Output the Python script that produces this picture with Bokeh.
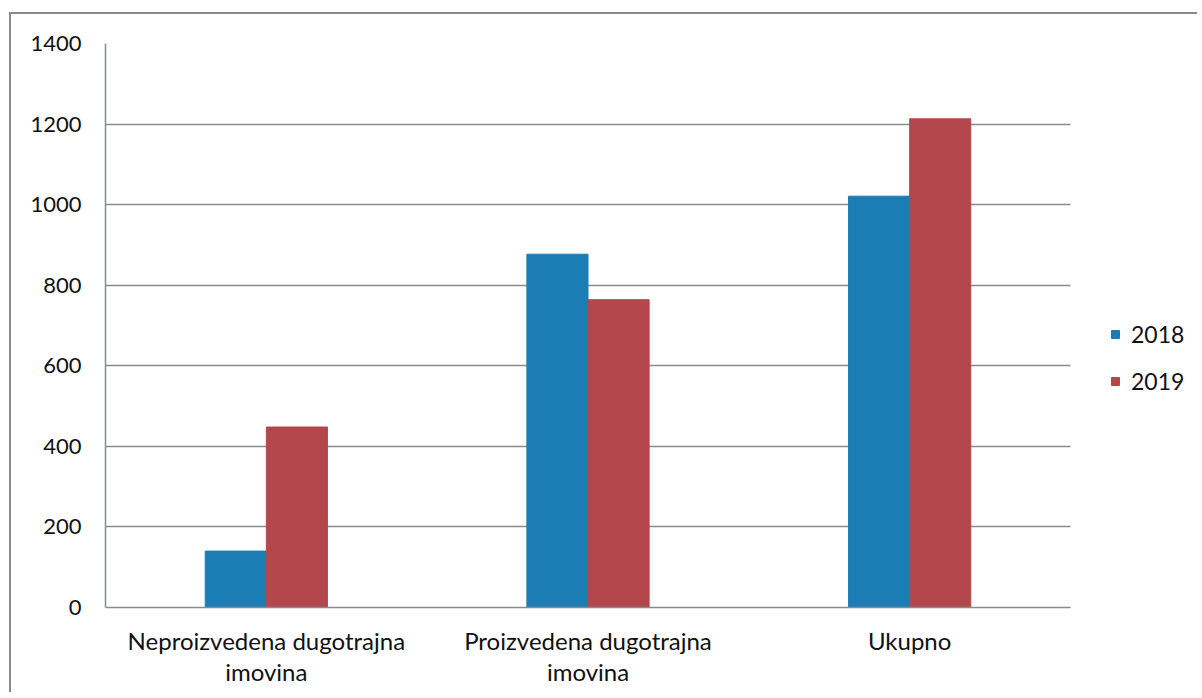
from bokeh.plotting import figure
from bokeh.models import ColumnDataSource, Range1d, Legend, LegendItem, FixedTicker
from bokeh.embed import file_html
from bokeh.resources import INLINE

categories = ["Neproizvedena dugotrajna\nimovina", "Proizvedena dugotrajna\nimovina", "Ukupno"]
values_2018 = [140, 877, 1021]
values_2019 = [448, 764, 1213]
years = ["2018", "2019"]
y_ticks = [0, 200, 400, 600, 800, 1000, 1200, 1400]

BLUE = "#1b7db4"
RED = "#b3474b"
GRID = "#878c8e"
FONT = "Lato"

n = len(categories)
centers = [i + 0.5 for i in range(n)]
BAR_W = 0.19
src = ColumnDataSource(dict(
    x18=[c - BAR_W / 2 for c in centers],
    x19=[c + BAR_W / 2 for c in centers],
    y2018=values_2018, y2019=values_2019))

# frame: 3 category slots span 965 px; the extra room on the right holds the legend
X_END = n * 1094 / 965

p = figure(width=1188, height=680, output_backend="svg", toolbar_location=None,
           x_range=Range1d(0, X_END), y_range=Range1d(0, 1400))
p.min_border_left = 94
p.min_border_top = 29
p.min_border_bottom = 87
p.min_border_right = 0
p.outline_line_color = None
p.background_fill_color = "white"
p.border_fill_color = "white"
p.styles = {"border-left": "2px solid #8a8a8a", "border-top": "2px solid #8a8a8a",
            "margin-left": "9px", "margin-top": "12px"}

r1 = p.vbar(x="x18", top="y2018", width=BAR_W, source=src, fill_color=BLUE, line_color=BLUE)
r2 = p.vbar(x="x19", top="y2019", width=BAR_W, source=src, fill_color=RED, line_color=RED)

p.xgrid.grid_line_color = None
p.ygrid.grid_line_color = GRID
p.ygrid.grid_line_width = 1.5
try:
    p.ygrid.cross_bounds = (0, n)
except Exception:
    pass
p.yaxis.ticker = FixedTicker(ticks=y_ticks)

p.yaxis.axis_line_color = GRID
p.yaxis.axis_line_width = 1.5
p.yaxis.major_tick_line_color = None
p.yaxis.minor_tick_line_color = None
p.yaxis.major_label_text_font = FONT
p.yaxis.major_label_text_font_size = "22px"
p.yaxis.major_label_text_color = "#111111"
p.yaxis.major_label_standoff = 18

p.xaxis.ticker = FixedTicker(ticks=centers)
p.xaxis.major_label_overrides = {c: lab for c, lab in zip(centers, categories)}
p.xaxis.bounds = (0, n)
p.xaxis.axis_line_color = GRID
p.xaxis.axis_line_width = 1.5
p.xaxis.major_tick_line_color = None
p.xaxis.minor_tick_line_color = None
p.xaxis.major_label_text_font = FONT
p.xaxis.major_label_text_font_size = "24px"
p.xaxis.major_label_text_color = "#111111"
p.xaxis.major_label_text_line_height = 1.1
p.xaxis.major_label_standoff = 12
p.xaxis.major_label_orientation = "horizontal"

legend = Legend(items=[LegendItem(label=years[0], renderers=[r1]),
                       LegendItem(label=years[1], renderers=[r2])],
                location=(1005, 212), orientation="vertical")
legend.border_line_color = None
legend.background_fill_alpha = 0
legend.label_text_font = FONT
legend.label_text_font_size = "23px"
legend.label_text_color = "#111111"
legend.glyph_width = 10
legend.glyph_height = 10
legend.label_standoff = 11
legend.spacing = 19
legend.padding = 0
legend.margin = 0
p.add_layout(legend, "center")

open("out.html", "w").write(file_html(p, INLINE))
